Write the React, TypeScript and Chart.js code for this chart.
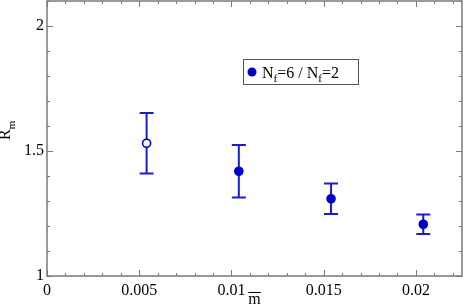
import React, { useEffect, useRef } from "react";
import { Chart, registerables } from "chart.js";

Chart.register(...registerables);

const mBar = [0.0054, 0.0104, 0.0154, 0.0204];
const ratio = [1.531, 1.419, 1.309, 1.207];
const ratioErr = [0.121, 0.105, 0.061, 0.039];
const openPoint = [true, false, false, false];
const xTicks = [0, 0.005, 0.01, 0.015, 0.02];
const yTicks = [1, 1.5, 2];
const legendLabel = ["N", "f", "=6 / N", "f", "=2"];

const BLUE = "#0000c8";
const BAR = "#1c1ccc";
const AXIS = "#7a7a7a";
const SERIF = "'Liberation Serif', 'Times New Roman', serif";

Chart.defaults.font.family = SERIF;

const decorPlugin = {
  id: "decor",
  beforeDatasetsDraw(chart: any) {
    const ctx = chart.ctx;
    const xs = chart.scales.x;
    const ys = chart.scales.y;
    ctx.save();
    ctx.strokeStyle = BAR;
    ctx.lineWidth = 2;
    for (let i = 0; i < mBar.length; i++) {
      const px = xs.getPixelForValue(mBar[i]);
      const top = ys.getPixelForValue(ratio[i] + ratioErr[i]);
      const bot = ys.getPixelForValue(ratio[i] - ratioErr[i]);
      ctx.beginPath();
      ctx.moveTo(px, top);
      ctx.lineTo(px, bot);
      ctx.moveTo(px - 7, top);
      ctx.lineTo(px + 7, top);
      ctx.moveTo(px - 7, bot);
      ctx.lineTo(px + 7, bot);
      ctx.stroke();
    }
    ctx.restore();
  },
  afterDraw(chart: any) {
    const ctx = chart.ctx;
    const a = chart.chartArea;
    const xs = chart.scales.x;
    const ys = chart.scales.y;
    ctx.save();
    // frame
    ctx.strokeStyle = AXIS;
    ctx.lineWidth = 1.5;
    ctx.strokeRect(a.left, a.top, a.right - a.left, a.bottom - a.top);
    // ticks inside
    ctx.lineWidth = 1;
    ctx.beginPath();
    for (let v = 0; v <= 0.0225 + 1e-9; v += 0.001) {
      const r = Math.round(v * 1000) / 1000;
      const major = Math.abs(r / 0.005 - Math.round(r / 0.005)) < 1e-6;
      const len = major ? 6 : 3;
      const px = Math.round(xs.getPixelForValue(r)) + 0.5;
      ctx.moveTo(px, a.bottom);
      ctx.lineTo(px, a.bottom - len);
      ctx.moveTo(px, a.top);
      ctx.lineTo(px, a.top + len);
    }
    for (let v = 1; v <= 2.1 + 1e-9; v += 0.1) {
      const r = Math.round(v * 10) / 10;
      const major = Math.abs(r * 2 - Math.round(r * 2)) < 1e-6;
      const len = major ? 6 : 3;
      const py = Math.round(ys.getPixelForValue(r)) + 0.5;
      ctx.moveTo(a.left, py);
      ctx.lineTo(a.left + len, py);
      ctx.moveTo(a.right, py);
      ctx.lineTo(a.right - len, py);
    }
    ctx.stroke();

    // y title R_m
    ctx.fillStyle = "#000";
    ctx.save();
    ctx.translate(10, 140);
    ctx.rotate(-Math.PI / 2);
    ctx.textBaseline = "alphabetic";
    ctx.textAlign = "left";
    ctx.font = `16px ${SERIF}`;
    ctx.fillText("R", 0, 0);
    const rw = ctx.measureText("R").width;
    ctx.font = `11px ${SERIF}`;
    ctx.fillText("m", rw, 5);
    ctx.restore();

    // x title m with overline
    ctx.font = `16px ${SERIF}`;
    ctx.textAlign = "center";
    ctx.textBaseline = "alphabetic";
    const cx = (a.left + a.right) / 2;
    ctx.fillText("m", cx, 304);
    const mw = ctx.measureText("m").width;
    ctx.strokeStyle = "#000";
    ctx.lineWidth = 1;
    ctx.beginPath();
    ctx.moveTo(cx - mw / 2, 292.5);
    ctx.lineTo(cx + mw / 2, 292.5);
    ctx.stroke();

    // legend
    ctx.strokeStyle = "#555";
    ctx.lineWidth = 1;
    ctx.strokeRect(243.5, 59.5, 115, 25);
    ctx.fillStyle = BLUE;
    ctx.beginPath();
    ctx.arc(252, 72, 4.5, 0, Math.PI * 2);
    ctx.fill();
    ctx.fillStyle = "#000";
    ctx.textAlign = "left";
    let tx = 262;
    const base = 78;
    legendLabel.forEach((s, i) => {
      const sub = i % 2 === 1;
      ctx.font = sub ? `11px ${SERIF}` : `16px ${SERIF}`;
      ctx.fillText(s, tx, sub ? base + 4 : base);
      tx += ctx.measureText(s).width;
    });
    ctx.restore();
  },
};

export default function App() {
  const ref = useRef<HTMLCanvasElement>(null);
  useEffect(() => {
    document.body.style.margin = "0";
    const canvas = ref.current!;
    const chart = new Chart(canvas, {
      type: "scatter",
      data: {
        datasets: [
          {
            label: "Nf=6 / Nf=2",
            data: mBar.map((x, i) => ({ x, y: ratio[i] })),
            pointRadius: 4,
            pointHoverRadius: 4,
            pointBorderWidth: 1.6,
            pointBorderColor: BLUE,
            pointBackgroundColor: openPoint.map((o) => (o ? "#ffffff" : BLUE)),
            showLine: false,
          },
        ],
      },
      options: {
        responsive: false,
        animation: false,
        events: [],
        layout: { autoPadding: false, padding: { top: 1, right: 1, left: 0, bottom: 0 } },
        plugins: { legend: { display: false }, tooltip: { enabled: false } },
        scales: {
          x: {
            type: "linear",
            min: 0,
            max: 0.0225,
            afterFit: (s: any) => {
              s.height = 32;
              s.paddingLeft = 0;
              s.paddingRight = 0;
            },
            afterBuildTicks: (s: any) => {
              s.ticks = xTicks.map((v) => ({ value: v }));
            },
            grid: { display: false, drawTicks: false },
            border: { display: false },
            ticks: {
              padding: 5,
              color: "#000",
              font: { family: SERIF, size: 16 },
              maxRotation: 0,
              autoSkip: false,
              callback: (v: any) => String(v),
            },
          },
          y: {
            type: "linear",
            min: 1,
            max: 2.1,
            afterFit: (s: any) => {
              s.width = 47;
              s.paddingTop = 0;
              s.paddingBottom = 0;
            },
            afterBuildTicks: (s: any) => {
              s.ticks = yTicks.map((v) => ({ value: v }));
            },
            grid: { display: false, drawTicks: false },
            border: { display: false },
            ticks: {
              padding: 3,
              color: "#000",
              font: { family: SERIF, size: 16 },
              callback: (v: any) => String(v),
            },
          },
        },
      },
      plugins: [decorPlugin],
    });
    return () => chart.destroy();
  }, []);
  return (
    <div style={{ width: 463, height: 308 }}>
      <canvas ref={ref} width={463} height={308} />
    </div>
  );
}
